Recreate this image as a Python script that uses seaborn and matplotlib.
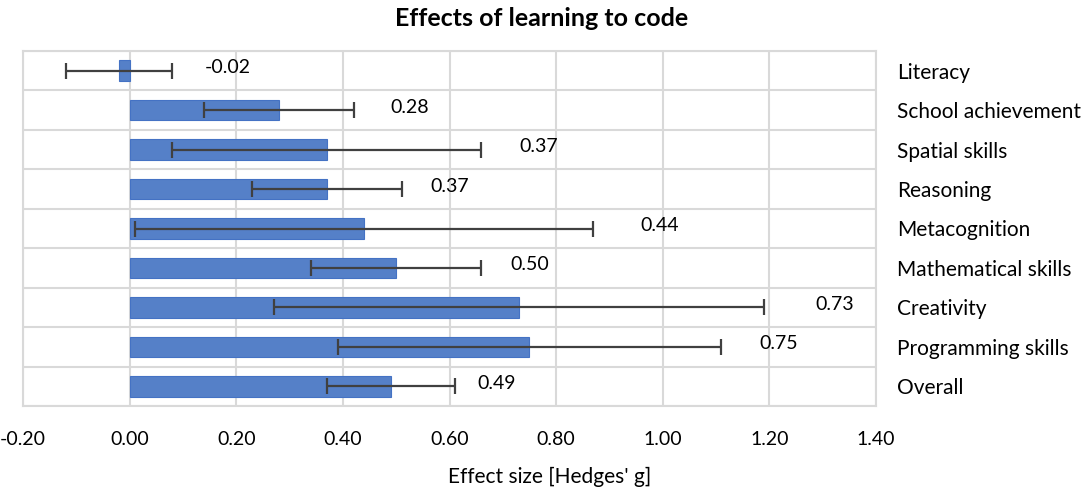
import matplotlib
matplotlib.use("Agg")
import matplotlib.pyplot as plt
import seaborn as sns
import pandas as pd
import numpy as np

# ---- data ----
categories = ["Literacy", "School achievement", "Spatial skills", "Reasoning",
              "Metacognition", "Mathematical skills", "Creativity",
              "Programming skills", "Overall"]
effect = [-0.02, 0.28, 0.37, 0.37, 0.44, 0.50, 0.73, 0.75, 0.49]
ci_low = [-0.12, 0.14, 0.08, 0.23, 0.01, 0.34, 0.27, 0.39, 0.37]
ci_high = [0.08, 0.42, 0.66, 0.51, 0.87, 0.66, 1.19, 1.11, 0.61]
value_labels = ["-0.02", "0.28", "0.37", "0.37", "0.44", "0.50", "0.73", "0.75", "0.49"]
x_ticks = [-0.20, 0.00, 0.20, 0.40, 0.60, 0.80, 1.00, 1.20, 1.40]
title = "Effects of learning to code"
x_title = "Effect size [Hedges' g]"

# label gap to the right of each error bar (pixels)
label_gap_px = [32, 37, 38, 29, 47, 29, 51, 38, 23]

sns.set_theme(style="white")
plt.rcParams['font.family'] = ['Lato', 'DejaVu Sans']

df = pd.DataFrame({"category": categories, "effect": effect})

fig = plt.figure(figsize=(10.84, 4.91), dpi=100)
ax = fig.add_axes([23 / 1084, 1 - 406 / 491, (876 - 23) / 1084, (406 - 51) / 491])

sns.barplot(data=df, y="category", x="effect", order=categories, orient="h",
            color="#5580C8", edgecolor="#4472C4", linewidth=0.8,
            width=0.52, errorbar=None, ax=ax, saturation=1, zorder=3)

ypos = np.arange(len(categories))
eff = np.array(effect)
lo = np.array(ci_low)
hi = np.array(ci_high)
ax.errorbar(eff, ypos, xerr=[eff - lo, hi - eff], fmt="none",
            ecolor="#404040", elinewidth=1.6, capsize=5.5, capthick=1.6, zorder=4)

for i, (h, lab, gap) in enumerate(zip(ci_high, value_labels, label_gap_px)):
    ax.annotate(lab, xy=(h, i), xytext=(gap * 0.72, 2.2), textcoords="offset points",
                ha="left", va="center", fontsize=14, color="#000000", zorder=5)

ax.set_xlim(-0.20, 1.40)
ax.set_ylim(len(categories) - 0.5, -0.5)
ax.set_xticks(x_ticks)
ax.set_xticklabels([f"{t:.2f}" for t in x_ticks], fontsize=14, color="#000000")
ax.tick_params(axis="x", length=0, pad=18)

ax.yaxis.tick_right()
ax.set_yticks(ypos)
ax.set_yticklabels(categories, fontsize=15, color="#000000")
ax.tick_params(axis="y", length=0, pad=15)

# gridlines: vertical at ticks, horizontal between categories
ax.set_yticks(np.arange(len(categories) + 1) - 0.5, minor=True)
ax.grid(axis="x", which="major", color="#D9D9D9", linewidth=1.5, zorder=0)
ax.grid(axis="y", which="minor", color="#D9D9D9", linewidth=1.5, zorder=0)
ax.grid(axis="y", which="major", visible=False)
ax.tick_params(axis="y", which="minor", length=0)
for s in ax.spines.values():
    s.set_visible(True)
    s.set_color("#D9D9D9")
    s.set_linewidth(1.5)

ax.set_xlabel("")
ax.set_ylabel("")

fig.text(542 / 1084, 1 - 19 / 491, title, ha="center", va="center",
         fontsize=18, fontweight="bold", color="#000000")
fig.text(550 / 1084, 1 - 477 / 491, x_title, ha="center", va="center",
         fontsize=15, color="#000000")

fig.savefig("out.png", dpi=100, facecolor="white")
